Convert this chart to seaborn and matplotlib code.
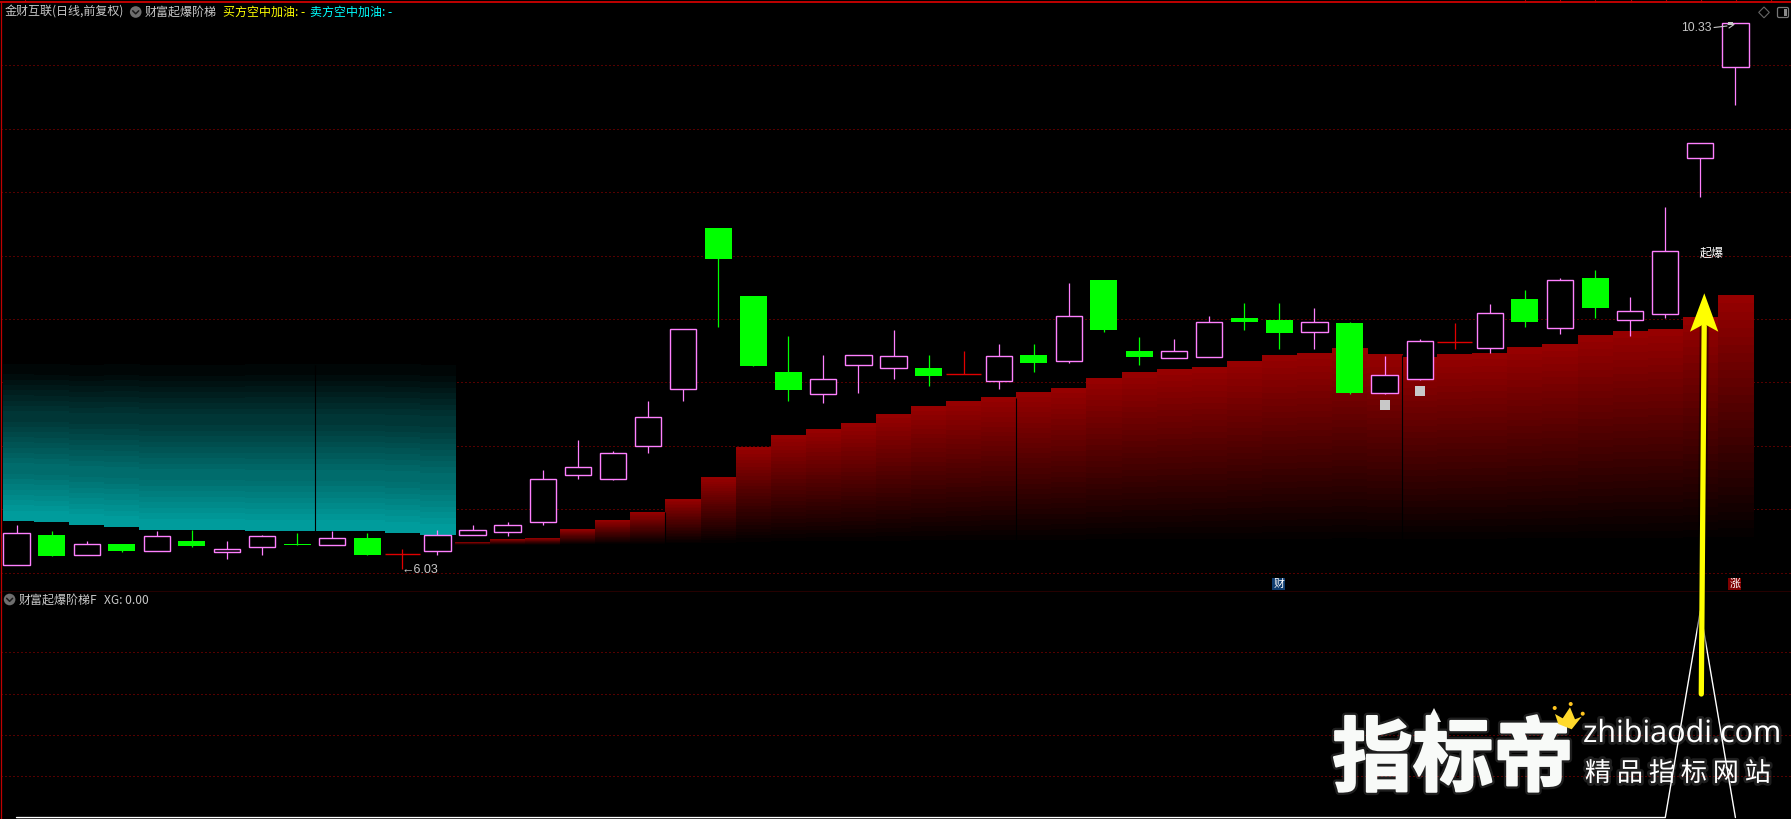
import numpy as np
import matplotlib
matplotlib.use("Agg")
import matplotlib.pyplot as plt
import matplotlib.patheffects as pe
from matplotlib.colors import LinearSegmentedColormap
from matplotlib.patches import Polygon, Rectangle, FancyBboxPatch
import seaborn as sns

# ---- candle values (price, one entry per trading day) ----
opens = [6.06, 6.30, 6.14, 6.23, 6.17, 6.25, 6.16, 6.20, 6.23, 6.22,
         6.27, 6.15, 6.17, 6.30, 6.32, 6.40, 6.77, 6.74, 7.00, 7.45,
         8.72, 8.18, 7.58, 7.41, 7.64, 7.61, 7.61, 7.57, 7.51, 7.72,
         7.67, 8.31, 7.75, 7.69, 7.70, 8.01, 7.99, 7.90, 7.97, 7.42,
         7.53, 7.82, 7.77, 8.16, 7.93, 8.32, 7.99, 8.04, 9.27, 9.99]
closes = [6.31, 6.13, 6.23, 6.17, 6.29, 6.21, 6.19, 6.29, 6.22, 6.27,
          6.14, 6.15, 6.30, 6.34, 6.38, 6.74, 6.83, 6.94, 7.23, 7.92,
          8.47, 7.63, 7.44, 7.53, 7.72, 7.71, 7.55, 7.57, 7.71, 7.65,
          8.02, 7.91, 7.70, 7.75, 7.98, 7.98, 7.89, 7.98, 7.42, 7.56,
          7.83, 7.82, 8.05, 7.98, 8.31, 8.09, 8.06, 8.54, 9.39, 10.33]
highs = [6.38, 6.33, 6.25, 6.23, 6.33, 6.34, 6.25, 6.30, 6.31, 6.33,
         6.31, 6.19, 6.34, 6.38, 6.40, 6.81, 7.05, 6.96, 7.35, 7.92,
         8.72, 8.18, 7.87, 7.72, 7.72, 7.91, 7.72, 7.75, 7.80, 7.80,
         8.28, 8.31, 7.86, 7.84, 8.02, 8.13, 8.13, 8.09, 7.98, 7.71,
         7.84, 7.97, 8.12, 8.23, 8.32, 8.39, 8.17, 8.88, 9.39, 10.33]
lows = [6.06, 6.13, 6.14, 6.16, 6.17, 6.20, 6.11, 6.14, 6.22, 6.22,
        6.14, 6.03, 6.14, 6.30, 6.29, 6.38, 6.74, 6.73, 6.94, 7.35,
        7.94, 7.63, 7.35, 7.34, 7.42, 7.53, 7.47, 7.57, 7.45, 7.58,
        7.65, 7.90, 7.64, 7.69, 7.70, 7.91, 7.76, 7.76, 7.41, 7.41,
        7.52, 7.76, 7.73, 7.94, 7.88, 8.01, 7.87, 8.01, 8.96, 9.69]

# ---- indicator areas ----
teal_bottoms = [6.41, 6.40, 6.38, 6.36, 6.34, 6.34, 6.34, 6.33, 6.33, 6.33, 6.33, 6.31, 6.30]
teal_top = 7.64
ladder_start = 13
ladder_tops = [6.24, 6.26, 6.27, 6.34, 6.41, 6.48, 6.58, 6.75, 6.99, 7.08,
               7.13, 7.18, 7.25, 7.31, 7.35, 7.38, 7.42, 7.45, 7.53, 7.58,
               7.60, 7.62, 7.67, 7.71, 7.73, 7.77, 7.72, 7.70, 7.72, 7.73,
               7.78, 7.80, 7.87, 7.90, 7.92, 8.01, 8.19]
ladder_base = 6.22
signal_days = [39, 40]
signal_prices = [7.32, 7.43]
xg_days = [0, 47, 48, 49]
xg_values = [0, 0, 1, 0]
price_grid = [6.0, 6.5, 7.0, 7.5, 8.0, 8.5, 9.0, 9.5, 10.0]
xg_grid = [0.2, 0.4, 0.6, 0.8]

# ---- colours ----
UP = "#ff80ff"
DOWN = "#00ff00"
DOJI = "#e00000"
GRID = "#a80000"
FRAME = "#c00000"
GREY = "#c8c8c8"

sns.set_theme(style="dark", rc={
    "figure.facecolor": "black", "axes.facecolor": "black",
    "savefig.facecolor": "black", "axes.edgecolor": FRAME,
})
CJK = ["Noto Sans CJK SC", "DejaVu Sans"]
plt.rcParams["font.family"] = CJK

W, H = 1791, 819
fig = plt.figure(figsize=(W / 100, H / 100), dpi=100)

def pane(top, bottom, left=1):
    return [left / W, 1 - bottom / H, 1 - left / W, (bottom - top) / H]

ax = fig.add_axes(pane(2, 592))
ax2 = fig.add_axes(pane(592, 819))
xlim = ((1 - 16.5) / 35.08, (W - 16.5) / 35.08)

for a in (ax, ax2):
    a.set_facecolor("black")
    a.set_xticks([])
    a.tick_params(length=0, labelleft=False, labelbottom=False)
    a.grid(False)
    for s in a.spines.values():
        s.set_visible(False)

for a, vals in ((ax, price_grid), (ax2, xg_grid)):
    a.set_yticks(vals)
    a.grid(axis="y", color=GRID, linestyle=(0, (1, 3)), linewidth=0.72, zorder=0)
    a.set_axisbelow(True)

for a, name, width in ((ax, "top", 1.4), (ax, "left", 0.9), (ax, "bottom", 1.0), (ax2, "left", 0.9)):
    a.spines[name].set_visible(True)
    a.spines[name].set_linewidth(width)

# ---- gradient stick areas ----
teal_cmap = LinearSegmentedColormap.from_list("teal", ["#000606", "#009c9c"], N=26)
red_cmap = LinearSegmentedColormap.from_list("red", ["#000000", "#960000"], N=30)
ramp = np.linspace(0, 1, 30).reshape(-1, 1)
left_clip = -0.385

for i, bottom in enumerate(teal_bottoms):
    ax.imshow(ramp, cmap=teal_cmap, aspect="auto", interpolation="nearest", zorder=1,
              extent=(max(i - 0.5, left_clip), i + 0.5, bottom, teal_top))
for k, top in enumerate(ladder_tops):
    i = ladder_start + k
    ax.imshow(ramp[::-1], cmap=red_cmap, aspect="auto", interpolation="nearest", zorder=1,
              extent=(i - 0.5, i + 0.5, ladder_base, top))

# thin seams between some sticks
ax.vlines([8.5], teal_bottoms[8], teal_top, color="black", lw=0.8, zorder=1.5)
for seam in (18, 28, 39):
    ax.vlines([seam + 0.5], ladder_base, ladder_tops[seam - ladder_start], color="black", lw=0.8, zorder=1.5)

# ---- candles ----
days = np.arange(len(opens))
o, c, h, l = map(np.array, (opens, closes, highs, lows))
up = c > o
down = c < o
flat = c == o

ax.vlines(days[up], l[up], h[up], color=UP, lw=0.9, zorder=3)
ax.vlines(days[down], l[down], h[down], color=DOWN, lw=0.9, zorder=3)
ax.vlines(days[flat], l[flat], h[flat], color=DOJI, lw=0.9, zorder=3)
ax.bar(days[up], (c - o)[up], bottom=o[up], width=0.75, facecolor="black", edgecolor=UP, linewidth=1.0, zorder=4)
ax.bar(days[down], (o - c)[down], bottom=c[down], width=0.77, facecolor=DOWN, edgecolor=DOWN, linewidth=0, zorder=4)
ax.hlines(o[flat], days[flat] - 0.5, days[flat] + 0.5, color=DOJI, lw=1.0, zorder=4)

sns.scatterplot(x=signal_days, y=signal_prices, ax=ax, marker="s", s=44, color=GREY, linewidth=0, zorder=5, legend=False)

# ---- lower pane ----
sns.lineplot(x=xg_days, y=xg_values, ax=ax2, color="white", lw=1.0, zorder=3, legend=False, errorbar=None)

ax.set_xlim(*xlim)
ax.set_ylim(5.848, 10.499)
ax2.set_xlim(*xlim)
ax2.set_ylim(-0.007, 1.092)
ax.set_xlabel("")
ax2.set_xlabel("")

# ---- overlay in picture coordinates: header text, icons, arrow, watermark ----
ov = fig.add_axes([0, 0, 1, 1], facecolor="none")
ov.set_xlim(0, W)
ov.set_ylim(H, 0)
ov.axis("off")

FS = 8.64

def label(x, y, s, color=GREY, size=FS, ha="left", **kw):
    kw.setdefault("family", CJK)
    return ov.text(x, y, s, color=color, fontsize=size, ha=ha, va="center", **kw)

def chevron_icon(x, y):
    ov.add_patch(plt.Circle((x, y), 5.8, color="#6e6e6e", lw=0))
    ov.plot([x - 3, x, x + 3], [y - 1.2, y + 1.8, y - 1.2], color="#1a1a1a", lw=1.1)

label(4.5, 12.5, "金财互联(日线,前复权)")
chevron_icon(135.7, 12)
label(145, 12.5, "财富起爆阶梯")
label(223, 12.5, "买方空中加油: -", color="#ffff00")
label(310, 12.5, "卖方空中加油: -", color="#00ffff")
chevron_icon(9.6, 599.5)
label(19, 600, "财富起爆阶梯F")
label(104, 600, "XG: 0.00")

label(401, 570, "←6.03", size=9, family=["Liberation Sans", "DejaVu Sans"])
label(1681.5, 28, "10.33", size=8.8, family=["Liberation Sans", "DejaVu Sans"])
ov.plot([1714, 1727], [27.5, 26], color=GREY, lw=0.8)
ov.plot([1728, 1734, 1729], [24.5, 24.5, 28], color=GREY, lw=0.8)
ov.add_patch(Rectangle((1728, 22), 4.5, 3, color=GREY, lw=0))
label(1711.5, 253, "起爆", color="white", ha="center")

# top frame ticks
for x in [25, 1525, 1560, 1595, 1631, 1666, 1701, 1736, 1771]:
    ov.plot([x, x], [0, 2], color=FRAME, lw=0.8)

# window icons
ov.add_patch(Polygon([(1764, 7), (1769.3, 12.4), (1764, 17.8), (1758.7, 12.4)], fill=False, ec="#666666", lw=0.8))
ov.add_patch(FancyBboxPatch((1778, 8), 10, 9, boxstyle="round,pad=0.5,rounding_size=1.5", fill=False, ec="#777777", lw=0.9))
ov.add_patch(Rectangle((1783.5, 9), 3.5, 7, color="#8a8a8a", lw=0))

# badges
for x, txt, bg in [(1278.8, "财", "#0f3c6e"), (1734.8, "涨", "#800000")]:
    ov.add_patch(Rectangle((x - 6.4, 577.7), 12.8, 12.4, color=bg, lw=0))
    label(x, 584, txt, color="white", size=7.8, ha="center")

# big yellow arrow
shadow = [pe.Stroke(linewidth=6.5, foreground="#000000", alpha=0.45), pe.Normal()]
ov.plot([1701.3, 1704.2], [694, 326], color="#ffff00", lw=3.8, solid_capstyle="round", path_effects=shadow, zorder=3)
ov.add_patch(Polygon([(1704.3, 293.3), (1718.3, 331.7), (1704.3, 324), (1690, 331.7)], color="#ffff00", lw=0, zorder=4))

# watermark
glow = [pe.withStroke(linewidth=4, foreground="#ffffff", alpha=0.12)]
heavy = [pe.withStroke(linewidth=5, foreground="#ffffff", alpha=0.12),
         pe.withStroke(linewidth=1.6, foreground="#f8faf8")]
ov.text(1453, 761, "指标帝", color="#f8faf8", fontsize=58, ha="center", va="center",
        family=CJK, fontweight="bold", path_effects=heavy, zorder=5)
ov.add_patch(Polygon([(1434, 708), (1441, 722), (1437.5, 722), (1437.5, 732), (1430.5, 732), (1430.5, 722), (1427, 722)],
                     color="#f8faf8", lw=0, zorder=6))
ov.add_patch(Polygon([(1555, 714), (1562.7, 718.3), (1570, 707.3), (1575, 719.3), (1581.7, 716.7), (1571.7, 729.3), (1558.3, 724)],
                     color="#ffd92b", lw=0, zorder=6))
for x, y in [(1554.7, 708), (1570.7, 704), (1582.7, 713.7)]:
    ov.add_patch(plt.Circle((x, y), 2, color="#ffc520", lw=0, zorder=6))
ov.text(1583, 734, "zhibiaodi.com", color="#ffffff", fontsize=22, ha="left", va="center",
        family=["Open Sans", "DejaVu Sans"], path_effects=glow, zorder=5)
ov.text(1678, 773.5, "精 品 指 标 网 站", color="#ffffff", fontsize=18.8, ha="center", va="center",
        family=CJK, path_effects=glow, zorder=5)

fig.savefig("out.png", dpi=100, facecolor="black")
